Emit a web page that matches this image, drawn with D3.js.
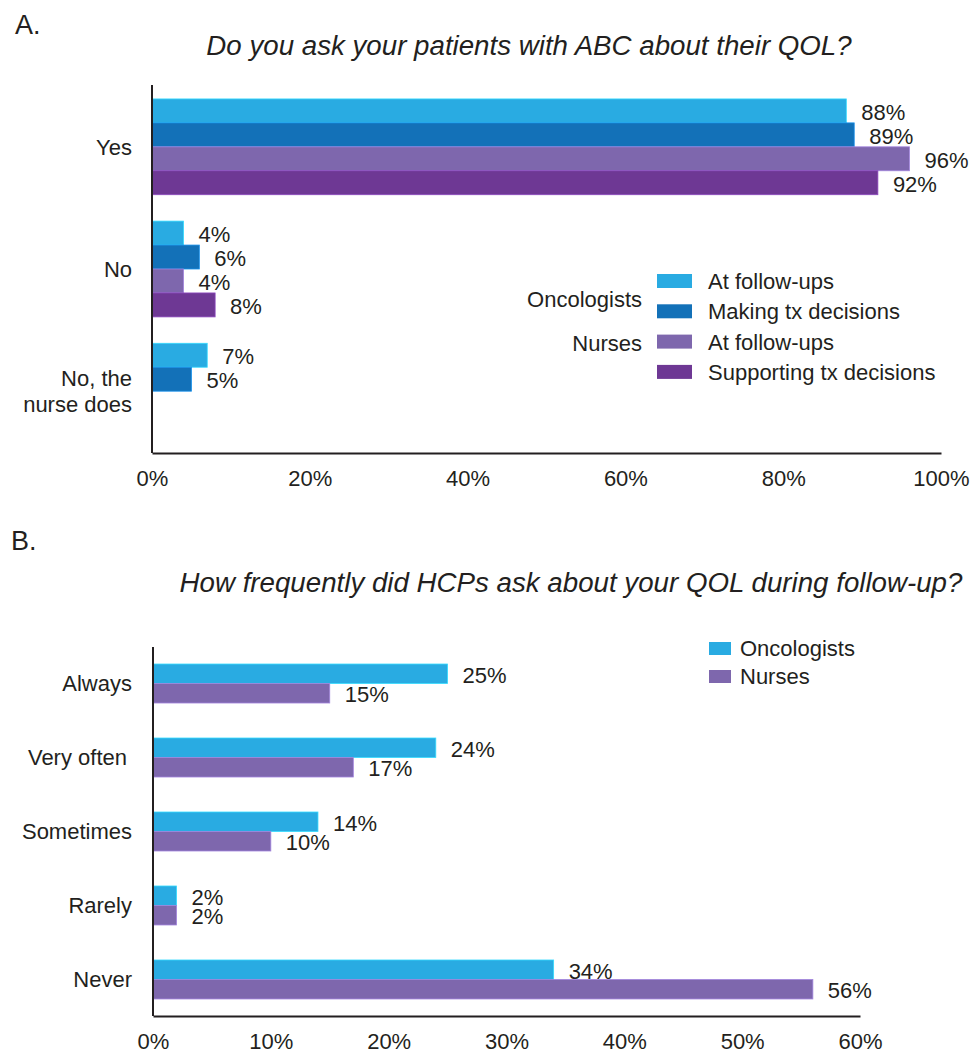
<!DOCTYPE html>
<html lang="en"><head>
<meta charset="utf-8">
<title>QOL survey bars</title>
<script src="https://cdn.jsdelivr.net/npm/d3@7"></script>
<style>
  body { margin: 0; background: #fff; }
  svg text { font-family: Arial, "Liberation Sans", sans-serif; fill: #231f20; }
</style>
</head>
<body>
<script>
// panel A data
var catsA = ["Yes", "No", "No, the nurse does"];
var seriesA = ["Onc follow-ups", "Onc tx", "Nurse follow-ups", "Nurse tx"];
var legendA = ["At follow-ups", "Making tx decisions", "At follow-ups", "Supporting tx decisions"];
var oncFollowA = [88, 4, 7];
var oncTxA = [89, 6, 5];
var nurseFollowA = [96, 4, null];
var nurseTxA = [92, 8, null];
var ticksA = [0, 20, 40, 60, 80, 100];

// panel B data
var catsB = ["Always", "Very often", "Sometimes", "Rarely", "Never"];
var seriesB = ["Oncologists", "Nurses"];
var oncB = [25, 24, 14, 2, 34];
var nurseB = [15, 17, 10, 2, 56];
var ticksB = [0, 10, 20, 30, 40, 50, 60];

var colorsA = ["#29abe2", "#1371b8", "#7e67ad", "#6e3894"];
var colorsB = ["#29abe2", "#7e67ad"];

var svg = d3.select("body").append("svg")
  .attr("width", 970).attr("height", 1053);

function panel(opt) {
  var g = svg.append("g");
  var x = d3.scaleLinear().domain(opt.xdom).range([opt.x0, opt.x1]);
  var y = d3.scaleBand().domain(opt.cats).range([opt.y0, opt.y1])
    .paddingInner(opt.pin).paddingOuter(opt.pout);
  var y1 = d3.scaleBand().domain(opt.series).range([0, y.bandwidth()]);

  var rows = [];
  opt.values.forEach(function(vals, si) {
    vals.forEach(function(v, ci) {
      if (v != null) rows.push({cat: opt.cats[ci], s: opt.series[si], si: si, v: v});
    });
  });

  g.selectAll("rect.bar").data(rows).enter().append("rect")
    .attr("class", "bar")
    .attr("x", x(0))
    .attr("y", function(d) { return y(d.cat) + y1(d.s); })
    .attr("width", function(d) { return x(d.v) - x(0); })
    .attr("height", y1.bandwidth())
    .attr("fill", function(d) { return opt.colors[d.si]; })
    .attr("stroke", function(d) { return d3.color(opt.colors[d.si]).brighter(0.7); })
    .attr("stroke-width", 0.8);

  g.selectAll("text.val").data(rows).enter().append("text")
    .attr("class", "val")
    .attr("x", function(d) { return x(d.v) + 15; })
    .attr("y", function(d) { return y(d.cat) + y1(d.s) + y1.bandwidth() / 2 + 1; })
    .attr("dy", "0.36em")
    .attr("font-size", 22)
    .text(function(d) { return d.v + "%"; });

  // x axis
  var xa = g.append("g")
    .attr("transform", "translate(0," + opt.y1 + ")")
    .call(d3.axisBottom(x).tickValues(opt.ticks).tickSize(0).tickPadding(17)
      .tickFormat(function(d) { return d + "%"; }));
  xa.select(".domain").attr("stroke", "#231f20").attr("stroke-width", 2);
  xa.selectAll("text").attr("font-size", 22).attr("fill", "#231f20")
    .attr("font-family", "Arial, 'Liberation Sans', sans-serif");

  // y axis line only
  g.append("line")
    .attr("x1", x(0)).attr("x2", x(0))
    .attr("y1", opt.y0).attr("y2", opt.y1)
    .attr("stroke", "#231f20").attr("stroke-width", 2);

  // category labels
  g.selectAll("text.cat").data(opt.cats).enter().append("text")
    .attr("class", "cat")
    .attr("text-anchor", "end")
    .attr("font-size", 22)
    .attr("y", function(d) { return y(d) + y.bandwidth() / 2; })
    .each(function(d) {
      var lines = d === "No, the nurse does" ? ["No, the", "nurse does"] : [d];
      var lx = d === "Very often" ? 127 : 132;
      var t = d3.select(this);
      lines.forEach(function(l, i) {
        t.append("tspan").attr("x", lx)
          .attr("dy", i === 0 ? (0.36 - (lines.length - 1) * 0.6) + "em" : "1.2em")
          .text(l);
      });
    });

  return g;
}

// Panel A
svg.append("text").attr("x", 15).attr("y", 34).attr("font-size", 27).text("A.");
svg.append("text").attr("x", 529).attr("y", 55).attr("text-anchor", "middle")
  .attr("font-size", 27.7).attr("font-style", "italic")
  .text("Do you ask your patients with ABC about their QOL?");

var gA = panel({
  cats: catsA, series: seriesA, values: [oncFollowA, oncTxA, nurseFollowA, nurseTxA],
  colors: colorsA, xdom: [0, 100], ticks: ticksA,
  x0: 152, x1: 941, y0: 85, y1: 453, pin: 0.216, pout: 0.114
});

var legA = gA.append("g");
legendA.forEach(function(l, i) {
  var yy = 274 + i * 30.3;
  legA.append("rect").attr("x", 657).attr("y", yy).attr("width", 35).attr("height", 14)
    .attr("fill", colorsA[i]);
  legA.append("text").attr("x", 708).attr("y", yy + 7).attr("dy", "0.36em")
    .attr("font-size", 22).text(l);
});
legA.append("text").attr("x", 642).attr("y", 299).attr("dy", "0.36em")
  .attr("text-anchor", "end").attr("font-size", 22).text("Oncologists");
legA.append("text").attr("x", 642).attr("y", 343).attr("dy", "0.36em")
  .attr("text-anchor", "end").attr("font-size", 22).text("Nurses");

// Panel B
svg.append("text").attr("x", 11).attr("y", 550).attr("font-size", 27).text("B.");
svg.append("text").attr("x", 571).attr("y", 592).attr("text-anchor", "middle")
  .attr("font-size", 27.7).attr("font-style", "italic")
  .text("How frequently did HCPs ask about your QOL during follow-up?");

var gB = panel({
  cats: catsB, series: seriesB, values: [oncB, nurseB],
  colors: colorsB, xdom: [0, 60], ticks: ticksB,
  x0: 153, x1: 860, y0: 647, y1: 1016, pin: 0.473, pout: 0.23
});

seriesB.forEach(function(s, i) {
  var yy = 642 + i * 28;
  gB.append("rect").attr("x", 709).attr("y", yy).attr("width", 22).attr("height", 13)
    .attr("fill", colorsB[i]);
  gB.append("text").attr("x", 740).attr("y", yy + 6.5).attr("dy", "0.36em")
    .attr("font-size", 22).text(s);
});
</script>
</body></html>
